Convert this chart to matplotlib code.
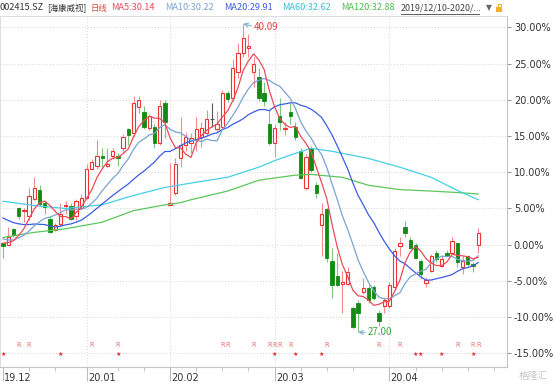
import numpy as np
import pandas as pd
import matplotlib
matplotlib.use("Agg")
import matplotlib.pyplot as plt
from matplotlib.patches import Rectangle

plt.rcParams['font.family'] = ['Noto Sans CJK SC', 'DejaVu Sans']

# daily candles, % change vs. base close (2019/12/10 - 2020/04)
opens = [0.2, 0.0, 2.1, 5.0, 4.6, 4.0, 6.3, 7.5, 5.8, 3.6,
         2.0, 2.9, 5.3, 5.3, 4.0, 5.1, 6.5, 10.5, 10.8, 12.3,
         10.8, 12.2, 12.3, 13.3, 15.9, 15.4, 19.0, 18.3, 16.1, 16.2,
         14.0, 19.5, 5.5, 7.1, 11.9, 13.8, 14.1, 14.4, 14.8, 15.4,
         17.3, 16.0, 16.2, 20.9, 20.2, 23.8, 26.4, 27.2, 23.8, 23.1,
         21.0, 16.7, 14.0, 17.8, 15.9, 18.3, 16.3, 13.0, 7.8, 13.3,
         8.2, 2.7, 4.9, -2.2, -4.3, -5.4, -5.4, -8.8, -8.1, -6.6,
         -6.0, -5.9, -9.5, -8.4, -8.4, -5.9, -0.2, 2.4, 0.7, -0.1,
         -2.3, -5.3, -3.7, -1.2, -2.9, -1.1, -1.2, 0.2, -3.1, -1.6,
         -2.6, -0.1]
highs = [0.3, 2.4, 2.3, 5.2, 5.1, 7.8, 9.4, 8.3, 6.0, 4.0,
         3.0, 5.8, 6.0, 5.8, 6.3, 7.0, 11.1, 11.8, 14.4, 13.4,
         13.3, 13.3, 12.7, 15.3, 16.1, 20.5, 20.5, 19.2, 18.1, 16.6,
         20.0, 20.0, 11.3, 11.9, 17.6, 15.6, 15.4, 17.6, 16.9, 18.6,
         19.5, 18.5, 21.3, 21.2, 25.6, 27.8, 30.5, 29.1, 25.9, 24.4,
         22.4, 18.6, 16.7, 20.3, 16.9, 19.5, 16.9, 13.3, 12.5, 13.6,
         8.6, 5.7, 5.0, -0.4, -1.2, -3.6, -3.1, -8.4, -7.7, -4.6,
         -5.6, -5.6, -9.0, -7.4, -5.2, -0.5, 1.0, 3.2, 1.0, 0.3,
         -2.0, -4.4, -1.3, -0.8, -1.6, -0.7, 1.0, 0.3, -1.6, -1.4,
         -2.4, 2.3]
lows = [-1.8, -0.1, 1.1, 3.5, 3.1, 3.4, 6.2, 5.4, 4.3, 1.6,
        1.9, 2.6, 4.3, 3.4, 3.4, 5.0, 6.3, 10.3, 10.5, 10.7,
        10.7, 11.8, 10.9, 12.7, 13.8, 15.0, 18.2, 16.0, 15.8, 13.4,
        13.8, 14.7, 5.5, 6.8, 10.7, 13.0, 12.7, 13.0, 13.5, 15.0,
        16.2, 15.5, 16.0, 19.7, 19.8, 23.0, 25.9, 25.9, 21.7, 19.8,
        19.2, 13.8, 12.1, 15.8, 15.2, 16.7, 14.5, 9.0, 7.5, 10.0,
        6.5, -1.5, -2.4, -7.4, -5.7, -9.4, -5.5, -11.5, -12.1, -6.8,
        -8.0, -7.7, -11.2, -9.4, -8.7, -6.3, -1.5, 1.0, -0.6, -2.0,
        -4.7, -5.9, -3.8, -2.4, -3.1, -1.6, -1.3, -3.1, -4.0, -3.0,
        -3.8, -1.1]
closes = [-0.2, 1.0, 1.4, 4.0, 4.8, 6.7, 7.8, 5.6, 5.2, 1.7,
          2.7, 4.3, 5.5, 3.6, 6.0, 6.4, 10.4, 11.4, 12.2, 12.0,
          11.2, 12.9, 12.0, 14.8, 15.2, 19.5, 20.0, 16.2, 17.7, 14.0,
          19.2, 17.0, 5.7, 11.2, 13.7, 14.9, 14.7, 15.9, 16.1, 17.3,
          17.3, 16.6, 20.9, 20.1, 24.4, 26.4, 28.5, 27.4, 25.0, 20.2,
          19.9, 14.0, 16.1, 16.9, 16.1, 17.8, 14.8, 9.2, 12.1, 10.3,
          7.1, 4.3, -1.9, -5.5, -5.5, -5.2, -3.8, -11.4, -9.4, -6.0,
          -7.7, -7.4, -10.6, -7.7, -5.6, -0.9, 0.3, 1.6, -0.4, -1.9,
          -4.0, -4.9, -1.6, -2.0, -2.0, -1.5, 0.5, -2.4, -2.3, -2.6,
          -3.0, 1.6]

# closes before the visible window (estimated from where MA5/10/20 start)
prior_closes = [7.8, 7.5, 7.2, 6.9, 6.6, 6.4, 6.3, 6.0, 5.7, 5.3,
                2.4, 1.5, 1.2, 1.0, 0.9, 0.5, 0.2, 0.4, 0.1]

# long averages
ma60_idx = [0, 6, 12, 19, 25, 31, 36, 43, 49, 52, 56, 59, 63, 70, 76, 82, 87, 91]
ma60_val = [6.0, 5.4, 5.0, 5.5, 6.8, 7.9, 8.5, 9.3, 10.7, 11.6, 12.6, 13.3, 12.9, 11.9, 10.7, 9.3, 7.5, 6.2]
ma120_idx = [0, 6, 12, 19, 25, 31, 34, 36, 43, 49, 56, 59, 65, 70, 76, 82, 87, 91]
ma120_val = [1.0, 1.7, 2.2, 3.1, 4.7, 5.5, 5.8, 6.2, 7.4, 8.9, 9.6, 9.7, 9.3, 8.2, 7.6, 7.4, 7.2, 7.0]

month_idx = [0, 16, 32, 52, 74]
month_lbl = ['19.12', '20.01', '20.02', '20.03', '20.04']
week_idx = [0, 5, 10, 16, 22, 27, 32, 37, 42, 47, 52, 57, 62, 67, 74, 79, 84, 89, 94]
r_idx = [3, 5, 17, 22, 42, 43, 48, 51, 52, 53, 55, 62, 72, 76, 87, 90, 91]
star_idx = [0, 11, 22, 52, 56, 61, 79, 80, 84, 90]

hi_i, hi_price = 46, 40.09
lo_i, lo_price = 68, 27.00
ma_names = ['MA5', 'MA10', 'MA20', 'MA60', 'MA120']
ma_last = [30.14, 30.22, 29.91, 32.62, 32.88]

UP = '#f03434'
UP_WICK = '#f58c8c'
DN = '#138a13'
DN_WICK = '#7cc87c'
C_MA5 = '#ee4a5a'
C_MA10 = '#7aa3d2'
C_MA20 = '#3b5ce6'
C_MA60 = '#45d0e6'
C_MA120 = '#5cc65c'

full = pd.Series(prior_closes + closes)
np_ = len(prior_closes)
ma5 = full.rolling(5).mean().values[np_:]
ma10 = full.rolling(10).mean().values[np_:]
ma20 = full.rolling(20).mean().values[np_:]

n = len(closes)
x = np.arange(n)

fig = plt.figure(figsize=(5.54, 3.84), dpi=100)
ax = fig.add_axes([0, 0.044, 0.915, 0.914])

# grid
for v in range(-15, 31, 5):
    ax.axhline(v, color='#d4d4d4', lw=0.7, ls=(0, (1, 2)), zorder=0)
for m in month_idx[1:]:
    ax.axvline(m, color='#d4d4d4', lw=0.7, ls=(0, (1, 2)), zorder=0)

# candles
w = 0.32
for i in range(n):
    o, h, l, c = opens[i], highs[i], lows[i], closes[i]
    if c > o:
        ax.vlines(i, l, o, color=UP_WICK, lw=0.8, zorder=2)
        ax.vlines(i, c, h, color=UP_WICK, lw=0.8, zorder=2)
        ax.add_patch(Rectangle((i - w, o), 2 * w, c - o, facecolor='white',
                               edgecolor=UP, lw=0.8, zorder=3))
    elif c < o:
        ax.vlines(i, l, h, color=DN_WICK, lw=0.8, zorder=2)
        ax.add_patch(Rectangle((i - w, c), 2 * w, o - c, facecolor=DN,
                               edgecolor=DN, lw=0.6, zorder=3))
    else:
        ax.vlines(i, l, h, color='#555555', lw=0.8, zorder=2)
        ax.hlines(c, i - w, i + w, color='#555555', lw=0.8, zorder=3)

# moving averages
ax.plot(ma120_idx, ma120_val, color=C_MA120, lw=0.9, zorder=4)
ax.plot(ma60_idx, ma60_val, color=C_MA60, lw=0.9, zorder=4)
ax.plot(x, ma20, color=C_MA20, lw=0.9, zorder=4)
ax.plot(x, ma10, color=C_MA10, lw=0.9, zorder=4)
ax.plot(x, ma5, color=C_MA5, lw=0.9, zorder=4)

# high / low marks
ax.annotate(f"{hi_price:.2f}", xy=(hi_i, highs[hi_i]), xytext=(hi_i + 2.1, highs[hi_i] - 0.4),
            color='#e8423f', fontsize=7, va='center', ha='left',
            arrowprops=dict(arrowstyle='->', color='#7fb3d5', lw=0.8,
                            shrinkA=0, shrinkB=0, relpos=(0, 0.5)))
ax.annotate(f"{lo_price:.2f}", xy=(lo_i, lows[lo_i]), xytext=(lo_i + 1.9, lows[lo_i]),
            color='#3aa63a', fontsize=7, va='center', ha='left',
            arrowprops=dict(arrowstyle='->', color='#7fb3d5', lw=0.8,
                            shrinkA=0, shrinkB=0, relpos=(0, 0.5)))

# event markers
for i in r_idx:
    ax.text(i, -13.9, 'R', color='#f07070', fontsize=4.8, ha='center', va='center',
            family='DejaVu Sans')
for i in star_idx:
    ax.text(i, -15.1, '★', color='#e8252a', fontsize=4.4, ha='center', va='center',
            family='DejaVu Sans')

ax.set_xlim(-0.57, 96.5)
ax.set_ylim(-16.9, 31.55)

ax.yaxis.tick_right()
ax.set_yticks(range(-15, 31, 5))
ax.set_yticklabels([f"{v:.2f}%" for v in range(-15, 31, 5)], fontsize=7, color='#333333',
                   family='DejaVu Sans')
ax.tick_params(axis='y', length=3, color='#999999', pad=2)

ax.set_xticks(month_idx)
ax.set_xticklabels([])
ax.set_xticks(week_idx, minor=True)
ax.tick_params(axis='x', which='major', length=10, color='#bbbbbb')
ax.tick_params(axis='x', which='minor', length=3, color='#bbbbbb')
for m, lbl in zip(month_idx, month_lbl):
    ax.text(m + 0.25, -0.018, lbl, transform=ax.get_xaxis_transform(), fontsize=7,
            color='#333333', ha='left', va='top', family='DejaVu Sans')

for s in ['left', 'top']:
    ax.spines[s].set_color('#dddddd')
    ax.spines[s].set_linewidth(0.7)
for s in ['right', 'bottom']:
    ax.spines[s].set_color('#c4c4c4')
    ax.spines[s].set_linewidth(0.8)

# header line
fy = 1 - 8 / 384
hs = 6.6
fig.text(0 / 554, fy, '002415.SZ', fontsize=hs, color='#333333', va='center')
fig.text(47 / 554, fy, '[海康威视]', fontsize=6.0, color='#333333', va='center')
fig.text(91 / 554, fy, '日线', fontsize=6.0, color='#e8423f', va='center')
ma_x = [111, 165, 224, 282, 341]
ma_cols = [C_MA5, C_MA10, C_MA20, '#36c0dc', '#4cbf4c']
for xx, name, val, col in zip(ma_x, ma_names, ma_last, ma_cols):
    fig.text(xx / 554, fy, f"{name}:{val:.2f}", fontsize=hs, color=col, va='center')
fig.text(401 / 554, fy, '2019/12/10-2020/...', fontsize=6.4, color='#444444', va='center')
fig.add_artist(plt.Line2D([401 / 554, 479 / 554], [1 - 14 / 384] * 2, color='#444444', lw=0.6))
fig.text(486 / 554, fy, '▼', fontsize=5.5, color='#666666', va='center', family='DejaVu Sans')
fig.patches.append(Rectangle((496 / 554, 1 - 12 / 384), 6 / 554, 5 / 384, facecolor='#f0b030',
                             edgecolor='none', transform=fig.transFigure, figure=fig))
fig.patches.append(Rectangle((497.5 / 554, 1 - 7 / 384), 3 / 554, 3 / 384, facecolor='none',
                             edgecolor='#f0b030', lw=0.8, transform=fig.transFigure, figure=fig))

# watermark
fig.text(548 / 554, 1 - 376 / 384, '格隆汇', fontsize=7, color='#c8c8c8', ha='right', va='center')

fig.savefig('out.png', dpi=100)
